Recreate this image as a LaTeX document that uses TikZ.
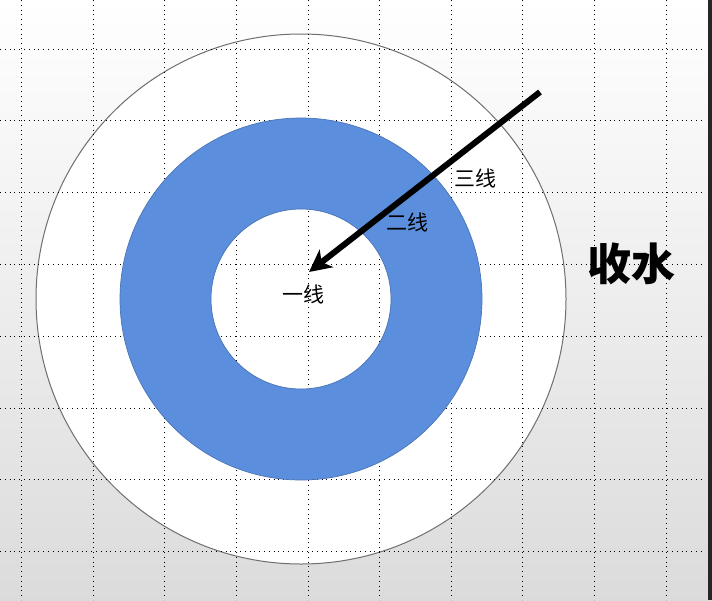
\documentclass[tikz,border=0pt]{standalone}
\usepackage{fontspec}
\newfontfamily\cjk{Noto Sans CJK SC}
\usetikzlibrary{arrows.meta}

\definecolor{ringblue}{RGB}{91,143,221}
\definecolor{ringedge}{RGB}{74,116,180}
\definecolor{rimgray}{RGB}{110,110,115}

\begin{document}
\begin{tikzpicture}[x=1pt, y=-1pt,
  grid/.style={black, line width=0.9pt, dash pattern=on 0.9pt off 3.9pt},
  lbl/.style={font=\cjk\fontsize{21}{21}\selectfont, inner sep=0pt},
  big/.style={font=\cjk\bfseries\fontsize{44}{44}\selectfont, inner sep=0pt},
  pointer/.style={line width=6pt, -{Stealth[length=22pt, width=22pt, inset=6pt]}}
]

% --- slide background ---
\useasboundingbox (0,0) rectangle (712,600);
\shade[top color=white, bottom color=black!14] (0,0) rectangle (712,600);
\fill[black!85] (708,0) rectangle (712,600);

% --- centre of the rings ---
\coordinate (c) at (301,299);

% --- outer ring ---
\draw[rimgray, line width=1pt, fill=white] (c) circle [radius=265];

% --- dotted grid (hidden only by the blue band) ---
\foreach \gx in {21.7,93.3,164.9,236.5,308.1,379.7,451.3,522.9,594.5,666.1}
  \draw[grid] (\gx,0) -- (\gx,600);
\foreach \gy in {49,120.8,192.6,264.4,336.2,408,479.8,551.6}
  \draw[grid] (0,\gy) -- (704,\gy);

% --- blue band with an open centre ---
\draw[ringedge, line width=0.7pt, fill=ringblue, even odd rule]
  (c) circle [radius=181] (c) circle [radius=90];

% --- arrow from outside to the centre ---
\coordinate (start) at (540,92);
\coordinate (tip) at (309,272);
\draw[pointer] (start) -- (tip);

% --- labels ---
\node[lbl] (l3) at (475,178) {三线};
\node[lbl] (l2) at (407,222) {二线};
\node[lbl] (l1) at (303,294) {一线};
\node[big] (sw) at (631,264) {收水};

\end{tikzpicture}
\end{document}
